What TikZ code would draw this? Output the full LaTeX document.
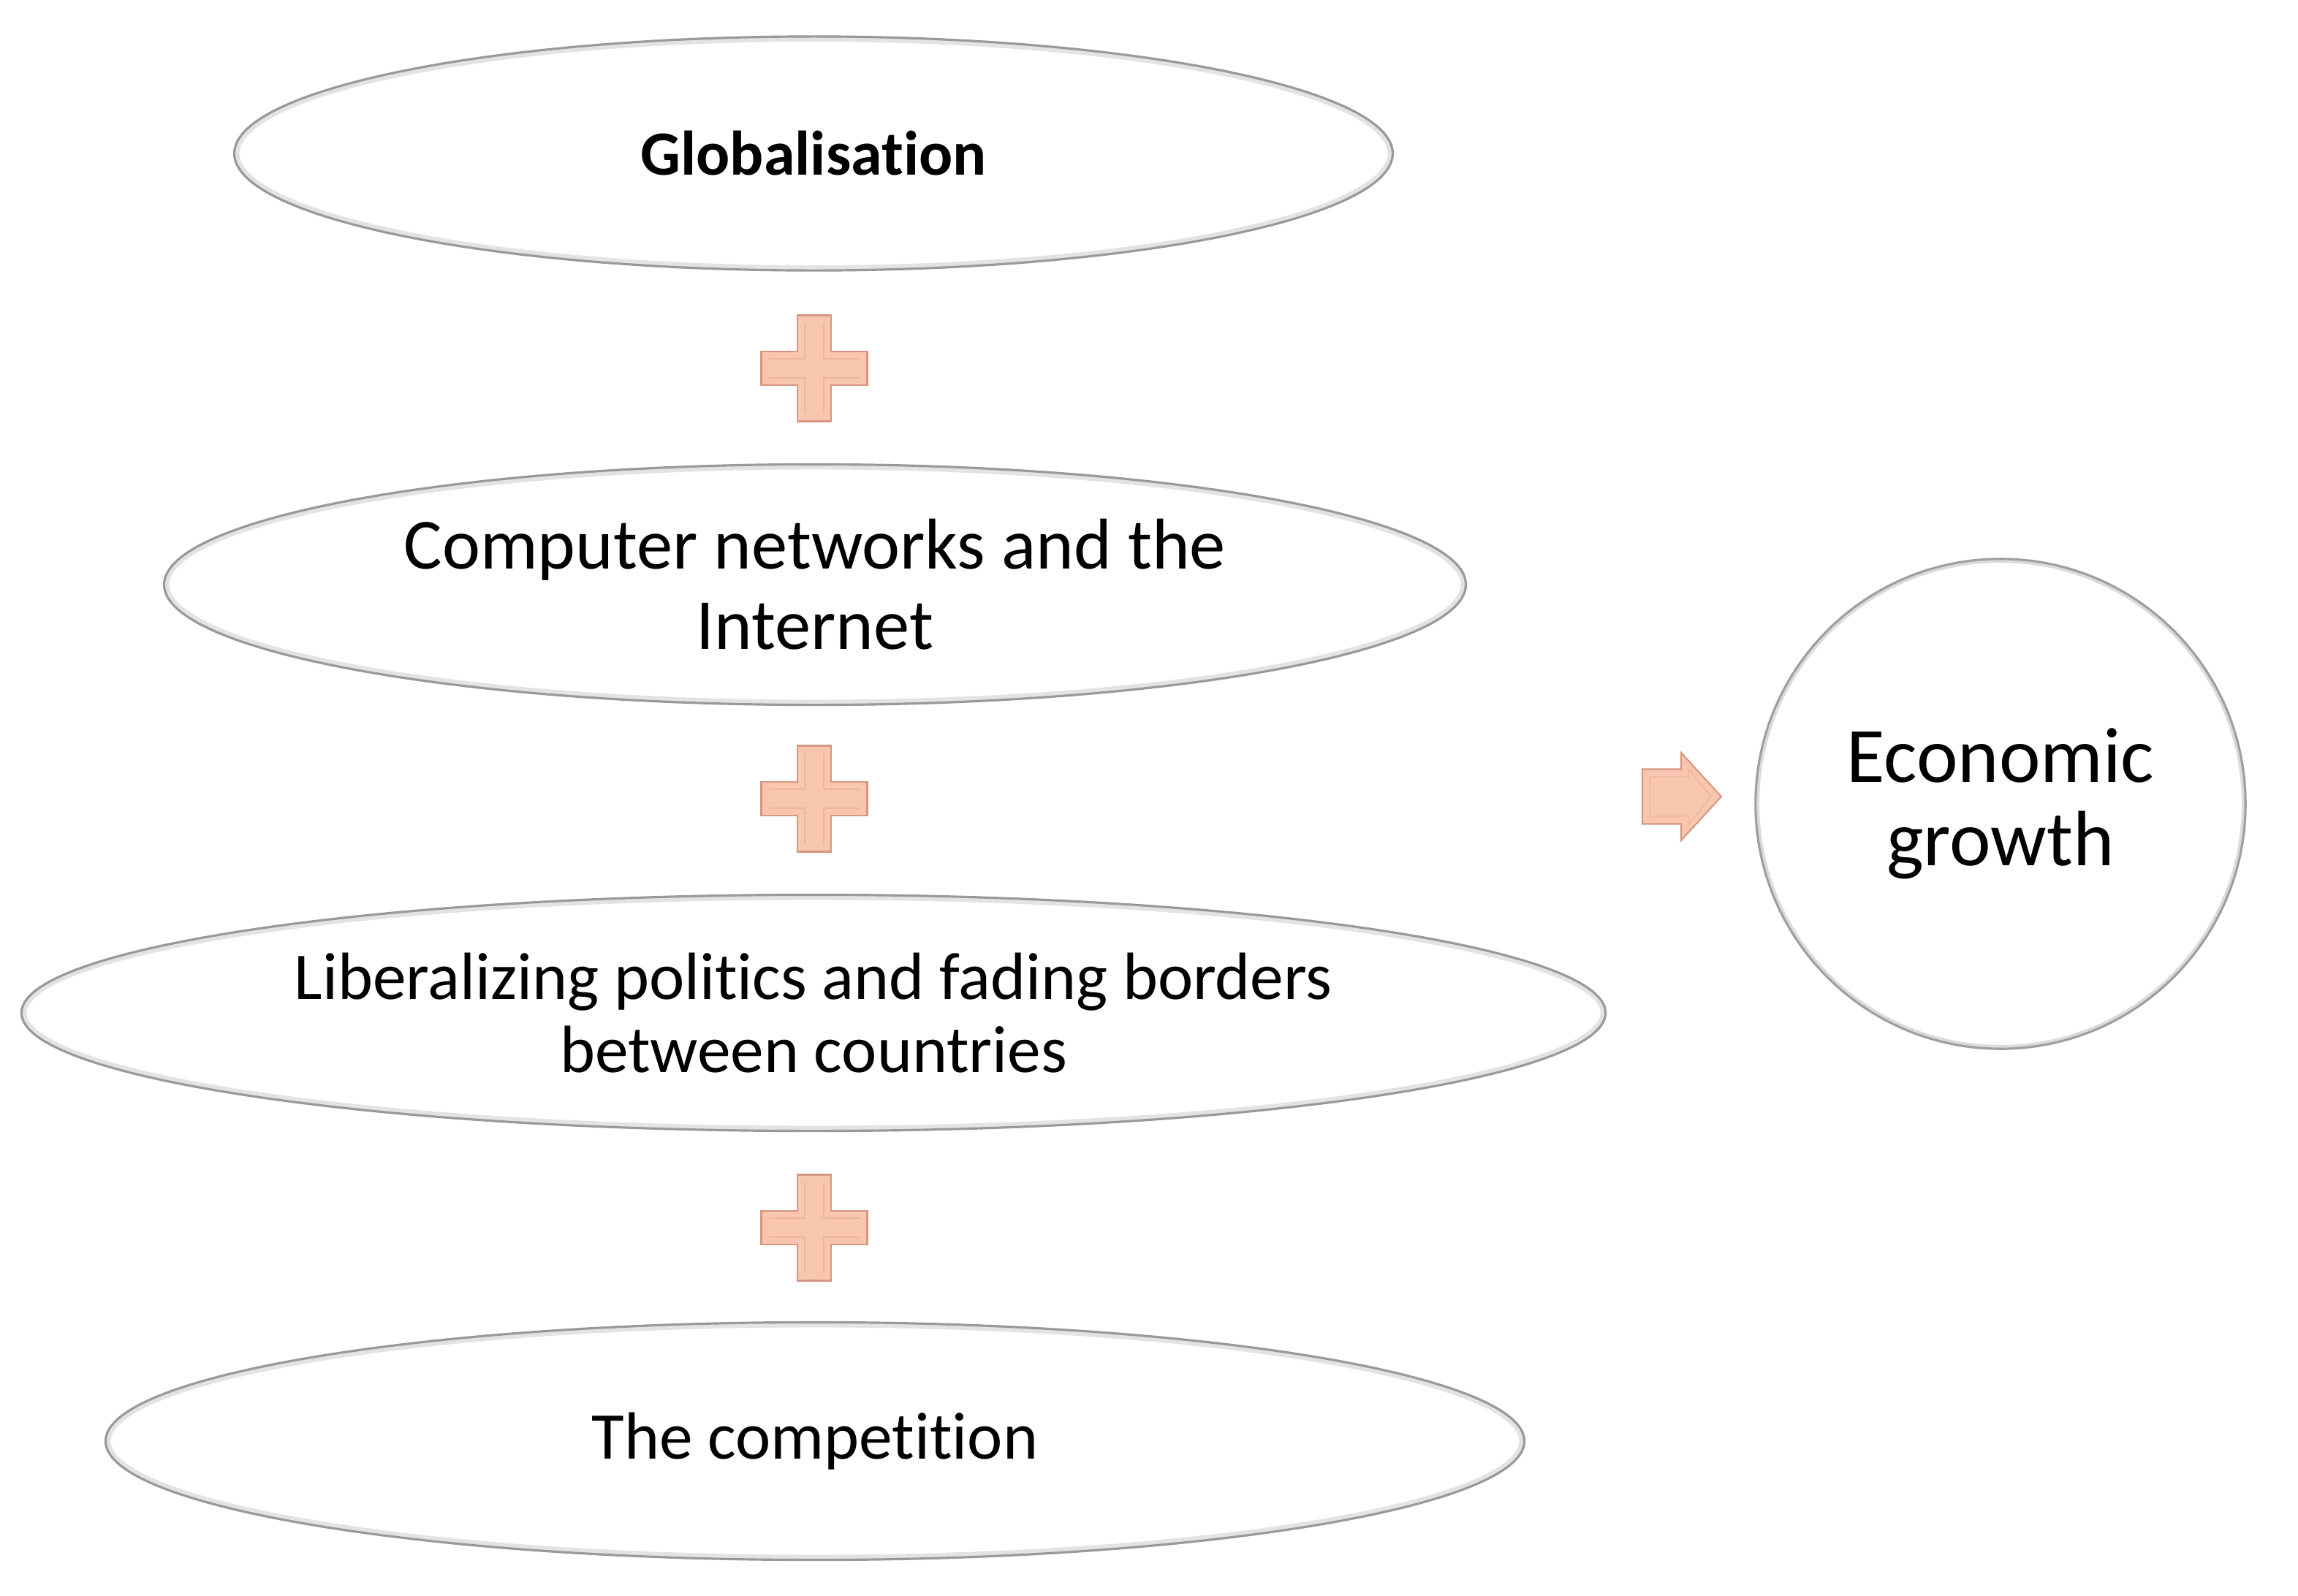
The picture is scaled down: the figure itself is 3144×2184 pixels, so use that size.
\documentclass[tikz,border=0pt]{standalone}
\usepackage{fontspec}
\setmainfont{Carlito}[Ligatures=NoCommon]
\usetikzlibrary{shapes.geometric,calc}
\definecolor{peach}{RGB}{248,197,174}
\definecolor{peachedge}{RGB}{214,152,130}
\tikzset{
  innerglow/.style={path picture={
    \draw let \p1=(path picture bounding box.north east), \p2=(path picture bounding box.center) in
      [gray!5, line width=22pt] (\p2) ellipse ({\x1-\x2} and {\y1-\y2})
      [gray!10, line width=10pt] (\p2) ellipse ({\x1-\x2} and {\y1-\y2})
      [gray!22, line width=4pt] (\p2) ellipse ({\x1-\x2} and {\y1-\y2});
  }},
  ringglow/.style={path picture={
    \draw let \p1=(path picture bounding box.north east), \p2=(path picture bounding box.center) in
      [gray!10, line width=30pt] (\p2) circle ({\x1-\x2})
      [gray!15, line width=10pt] (\p2) circle ({\x1-\x2})
      [gray!28, line width=3pt] (\p2) circle ({\x1-\x2});
  }},
  oval/.style={ellipse, draw=gray!80, line width=0.9pt, fill=white, innerglow, inner sep=0pt, align=center, text=black},
  roundbox/.style={circle, draw=gray!75, line width=0.9pt, fill=white, ringglow, inner sep=0pt, align=center, text=black, minimum size=6.7cm},
  peachshape/.style={fill=peach, draw=peachedge, line width=0.6pt, line join=miter},
  pics/plussign/.style={code={
    \draw[peachshape] (-72.5,-23) -- (-23,-23) -- (-23,-72.5) -- (23,-72.5) -- (23,-23) -- (72.5,-23) -- (72.5,23) -- (23,23) -- (23,72.5) -- (-23,72.5) -- (-23,23) -- (-72.5,23) -- cycle;
    \draw[peachedge, line width=0.4pt, opacity=0.35] (-62,-13) -- (-13,-13) -- (-13,-62) (13,-62) -- (13,-13) -- (62,-13) (62,13) -- (13,13) -- (13,62) (-13,62) -- (-13,13) -- (-62,13);
  }},
  pics/rightarrow/.style={code={
    \draw[peachshape] (0,-37.5) -- (53,-37.5) -- (53,-60) -- (108,0) -- (53,60) -- (53,37.5) -- (0,37.5) -- cycle;
    \draw[peachedge, line width=0.4pt, opacity=0.35] (10,-27) -- (63,-27) -- (63,-38) -- (94,0) -- (63,38) -- (63,27) -- (10,27) -- cycle;
  }}
}
\begin{document}
\begin{tikzpicture}[x=0.01cm, y=-0.01cm]
\useasboundingbox[fill=white] (0,0) rectangle (3144,2184);
% ovals
\node[oval, minimum width=15.84cm, minimum height=3.2cm, font=\fontsize{24.5}{29}\selectfont\bfseries] (glob) at (1113,210) {Globalisation};
\node[oval, minimum width=17.8cm, minimum height=3.29cm, font=\fontsize{28}{31.3}\selectfont] (comp) at (1115,800) {Computer networks and the\\Internet};
\node[oval, minimum width=21.66cm, minimum height=3.23cm, font=\fontsize{26}{28.6}\selectfont] (lib) at (1113,1386) {Liberalizing politics and fading borders\\between countries};
\node[oval, minimum width=19.4cm, minimum height=3.25cm, font=\fontsize{26}{29}\selectfont] (compet) at (1115,1972) {The competition};
% result circle
\node[roundbox, font=\fontsize{30.5}{32.5}\selectfont] (growth) at (2737,1100) {Economic\\growth};
% plus signs
\pic (plusA) at (1114,504) {plussign};
\pic (plusB) at (1114,1093) {plussign};
\pic (plusC) at (1114,1680) {plussign};
% arrow
\pic (arr) at (2247,1090) {rightarrow};
\end{tikzpicture}
\end{document}
